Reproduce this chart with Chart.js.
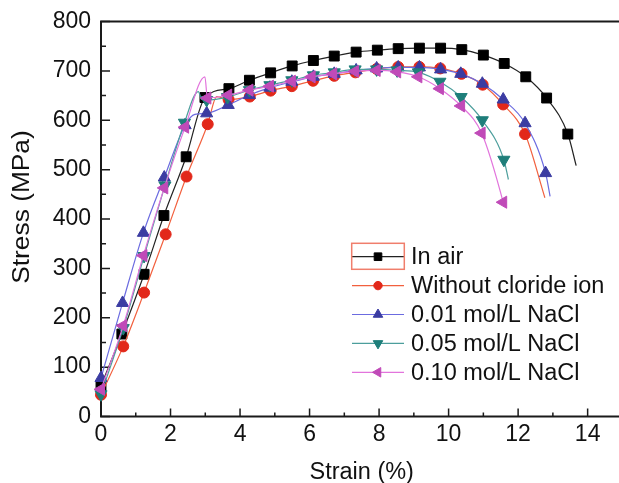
<!DOCTYPE html>
<html lang="en">
<head>
<meta charset="UTF-8">
<title>Stress-strain curves</title>
<style>
  html, body { margin: 0; padding: 0; background: #fff; overflow: hidden; }
  #wrap { width: 640px; height: 483px; }
</style>
</head>
<body>
<div id="wrap"><canvas id="stressChart" width="640" height="483"></canvas></div>
<script src="https://cdn.jsdelivr.net/npm/chart.js"></script>
<script>
// strain (%) / stress (MPa) for each test condition
// "bare" lists the vertices of a curve that carry no marker
const airStrain = [0, 0.6, 1.24, 1.81, 2.45, 2.99, 3.68, 4.27, 4.88, 5.5, 6.11, 6.71, 7.34, 7.95, 8.55, 9.16, 9.77, 10.38, 11.0, 11.6, 12.22, 12.82, 13.43, 13.67];
const airStress = [62, 167, 288, 407, 526, 646, 664, 681, 696, 710, 721, 730, 738, 742, 745, 746, 746, 743, 732, 715, 688, 645, 572, 508];
const airBare = [23];

const dryStrain = [0, 0.64, 1.24, 1.86, 2.46, 3.07, 3.33, 3.67, 4.28, 4.88, 5.49, 6.1, 6.71, 7.32, 7.93, 8.55, 9.16, 9.76, 10.37, 10.98, 11.57, 12.2, 12.77];
const dryStress = [44, 142, 251, 369, 486, 592, 648, 642, 648, 660, 669, 680, 690, 697, 704, 708, 708, 705, 694, 672, 632, 572, 443];
const dryBare = [6, 22];

const nacl01Strain = [0, 0.62, 1.22, 1.82, 2.42, 2.7, 3.04, 3.66, 4.27, 4.86, 5.49, 6.11, 6.71, 7.34, 7.93, 8.55, 9.16, 9.77, 10.35, 10.97, 11.57, 12.2, 12.79, 12.92];
const nacl01Stress = [78, 230, 372, 484, 590, 612, 614, 631, 651, 666, 678, 688, 694, 701, 705, 707, 707, 703, 694, 674, 642, 594, 493, 446];
const nacl01Bare = [5, 23];

const nacl05Strain = [0, 0.64, 1.24, 1.84, 2.4, 2.8, 2.9, 3.04, 3.64, 4.27, 4.86, 5.49, 6.11, 6.71, 7.31, 7.93, 8.52, 9.13, 9.75, 10.36, 10.97, 11.59, 11.72];
const nacl05Stress = [45, 179, 325, 468, 595, 658, 642, 641, 647, 661, 671, 681, 691, 697, 703, 703, 701, 697, 678, 647, 600, 520, 480];
const nacl05Bare = [5, 6, 22];

const nacl10Strain = [0, 0.64, 1.22, 1.82, 2.42, 2.99, 3.06, 3.66, 4.27, 4.86, 5.49, 6.06, 6.68, 7.31, 7.93, 8.52, 9.13, 9.75, 10.36, 10.95, 11.57, 11.6];
const nacl10Stress = [55, 184, 326, 463, 586, 688, 645, 651, 661, 669, 679, 688, 694, 699, 701, 698, 688, 664, 629, 574, 434, 425];
const nacl10Bare = [5, 21];

const xTicks = [0, 2, 4, 6, 8, 10, 12, 14];
const yTicks = [0, 100, 200, 300, 400, 500, 600, 700, 800];

const FONT = "'Liberation Sans', Arial, sans-serif";

function series(label, strain, stress, bare, style) {
  return {
    label: label,
    data: strain.map((x, i) => ({ x: x, y: stress[i] })),
    showLine: true,
    clip: false,
    borderColor: style.line,
    borderWidth: 1.2,
    cubicInterpolationMode: 'monotone',
    pointStyle: style.shape,
    rotation: style.rotation || 0,
    pointBackgroundColor: style.mark,
    pointBorderColor: style.mark,
    pointBorderWidth: 1,
    pointRadius: ctx => bare.includes(ctx.dataIndex) ? 0 : style.radius,
    pointHoverRadius: 0,
    legendRadius: style.legendRadius,
    order: style.order
  };
}

const datasets = [
  series('In air', airStrain, airStress, airBare,
    { line: '#222222', mark: '#000000', shape: 'rect', radius: 7, legendRadius: 5.4, order: 5 }),
  series('Without cloride ion', dryStrain, dryStress, dryBare,
    { line: '#f2603e', mark: '#e2281a', shape: 'circle', radius: 5.5, legendRadius: 4.2, order: 4 }),
  series('0.01 mol/L NaCl', nacl01Strain, nacl01Stress, nacl01Bare,
    { line: '#6b6be0', mark: '#3b3ca2', shape: 'triangle', radius: 7, legendRadius: 5.5, order: 3 }),
  series('0.05 mol/L NaCl', nacl05Strain, nacl05Stress, nacl05Bare,
    { line: '#4c9e9c', mark: '#1e7e7a', shape: 'triangle', rotation: 180, radius: 7, legendRadius: 5.5, order: 2 }),
  series('0.10 mol/L NaCl', nacl10Strain, nacl10Stress, nacl10Bare,
    { line: '#e274dc', mark: '#c04ab8', shape: 'triangle', rotation: 270, radius: 7, legendRadius: 5.5, order: 1 })
];

// axes frame with inward ticks, drawn under the curves
const framePlugin = {
  id: 'frame',
  beforeDatasetsDraw(chart) {
    const ctx = chart.ctx;
    const a = chart.chartArea;
    const xs = chart.scales.x, ys = chart.scales.y;
    ctx.save();
    ctx.strokeStyle = '#1a1a1a';
    ctx.lineWidth = 2;
    ctx.beginPath();
    ctx.moveTo(a.left, a.top);
    ctx.lineTo(a.right, a.top);
    ctx.lineTo(a.right, a.bottom);
    ctx.lineTo(a.left, a.bottom);
    ctx.closePath();
    ctx.stroke();

    ctx.lineWidth = 1.5;
    ctx.beginPath();
    for (let v = 0; v <= 800; v += 50) {
      const y = ys.getPixelForValue(v);
      const len = v % 100 === 0 ? 9 : 5;
      ctx.moveTo(a.left, y);
      ctx.lineTo(a.left + len, y);
    }
    for (let v = 1; v <= 14; v += 1) {
      const x = xs.getPixelForValue(v);
      const len = v % 2 === 0 ? 8 : 4;
      ctx.moveTo(x, a.bottom);
      ctx.lineTo(x, a.bottom - len);
    }
    ctx.stroke();
    ctx.restore();
  },
  afterDraw(chart) {
    const ctx = chart.ctx;
    const a = chart.chartArea;
    ctx.save();
    ctx.fillStyle = '#111';
    ctx.font = '23.5px ' + FONT;
    ctx.textAlign = 'center';
    ctx.textBaseline = 'middle';
    ctx.fillText('Strain (%)', (a.left + a.right) / 2, 473);
    ctx.translate(23, 207);
    ctx.rotate(-Math.PI / 2);
    ctx.scale(1.12, 1);
    ctx.fillText('Stress (MPa)', 0, 0);
    ctx.restore();
  }
};

// legend with a line sample and marker per curve
const legendPlugin = {
  id: 'sampleLegend',
  afterDraw(chart) {
    const ctx = chart.ctx;
    const x0 = 352, x1 = 404, tx = 411, top = 256.7, step = 28.9;
    ctx.save();
    chart.data.datasets.forEach((ds, i) => {
      const y = top + i * step;
      ctx.strokeStyle = ds.borderColor;
      ctx.lineWidth = 1.2;
      ctx.beginPath();
      ctx.moveTo(x0, y);
      ctx.lineTo(x1, y);
      ctx.stroke();
      ctx.fillStyle = ds.pointBackgroundColor;
      ctx.strokeStyle = ds.pointBorderColor;
      ctx.lineWidth = 1;
      Chart.helpers.drawPoint(ctx, {
        pointStyle: ds.pointStyle, rotation: ds.rotation,
        radius: ds.legendRadius, borderWidth: 1
      }, (x0 + x1) / 2, y);
      ctx.fillStyle = '#111';
      ctx.font = '23.5px ' + FONT;
      ctx.textAlign = 'left';
      ctx.textBaseline = 'middle';
      ctx.fillText(ds.label, tx, y + 1);
    });
    ctx.strokeStyle = '#f07e6c';
    ctx.lineWidth = 1.5;
    ctx.strokeRect(351.7, 243.3, 52.6, 26);
    ctx.restore();
  }
};

new Chart(document.getElementById('stressChart'), {
  type: 'scatter',
  data: { datasets: datasets },
  options: {
    responsive: false,
    animation: false,
    events: [],
    layout: { padding: { top: 21.5, right: 17.6, bottom: 0, left: 0 } },
    plugins: { legend: { display: false }, tooltip: { enabled: false } },
    scales: {
      x: {
        type: 'linear', min: 0, max: 15,
        grid: { display: false, drawTicks: false },
        border: { display: false },
        afterBuildTicks: s => { s.ticks = xTicks.map(v => ({ value: v })); },
        ticks: {
          padding: 7, color: '#111', maxRotation: 0, autoSkip: false,
          font: { family: FONT, size: 23, lineHeight: 1 }
        },
        afterFit: s => { s.height = 66.5; }
      },
      y: {
        type: 'linear', min: 0, max: 800,
        grid: { display: false, drawTicks: false },
        border: { display: false },
        afterBuildTicks: s => { s.ticks = yTicks.map(v => ({ value: v })); },
        ticks: {
          padding: 10, color: '#111',
          font: { family: FONT, size: 23, lineHeight: 1 }
        },
        afterFit: s => { s.width = 101; }
      }
    }
  },
  plugins: [framePlugin, legendPlugin]
});
</script>
</body>
</html>
